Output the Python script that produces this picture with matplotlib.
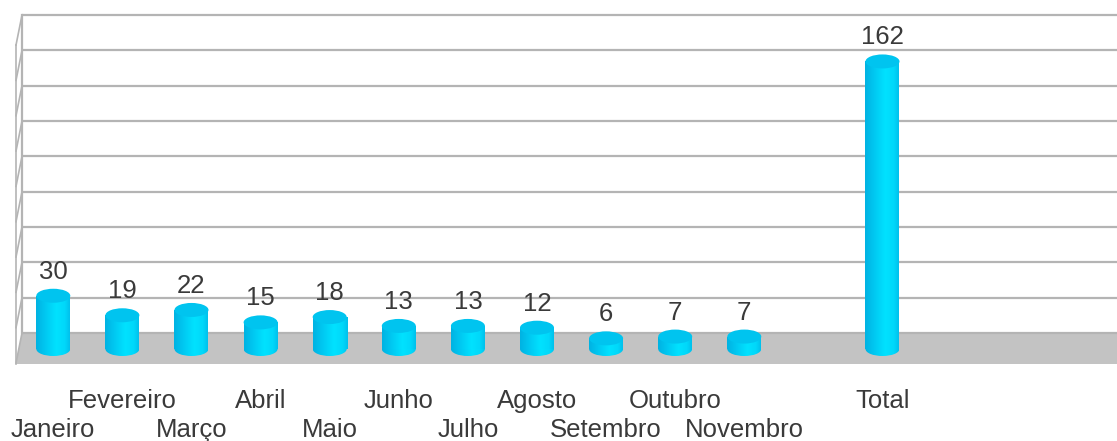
import numpy as np
import matplotlib
matplotlib.use("Agg")
import matplotlib.pyplot as plt
from matplotlib.patches import Ellipse, Polygon
from matplotlib.colors import LinearSegmentedColormap

# ---- data ----
categories = ["Janeiro", "Fevereiro", "Março", "Abril", "Maio", "Junho", "Julho",
              "Agosto", "Setembro", "Outubro", "Novembro", "", "Total"]
values = [30, 19, 22, 15, 18, 13, 13, 12, 6, 7, 7, None, 162]
grid_values = list(range(0, 181, 20))

# ---- figure geometry (pixels) ----
W, H, DPI = 1117, 441, 100
PX_X = 69.1      # pixels per category slot
PX_Y = 1.775     # pixels per value unit
X0_PX = 53.3     # pixel x of first category centre
BASE_PX = 92     # pixel (from bottom) of value 0 at bar base

fig = plt.figure(figsize=(W / DPI, H / DPI), dpi=DPI)
ax = fig.add_axes([0, 0, 1, 1])
ax.set_xlim(-X0_PX / PX_X, (W - X0_PX) / PX_X)
ax.set_ylim(-BASE_PX / PX_Y, (H - BASE_PX) / PX_Y)
ax.axis("off")

def ux(px):  # pixel distance -> data x units
    return px / PX_X

def uy(px):  # pixel distance -> data y units
    return px / PX_Y

xmin, xmax = ax.get_xlim()
back_dy = uy(16)     # back wall is 16 px above bar base
front_dy = -uy(15)   # front edge of floor 15 px below bar base
wall_back_x = ux(22 - X0_PX)
wall_front_x = ux(16 - X0_PX)
grid_scale = 0.995

grid_col = "#b4b4b4"
text_col = "#3a3a3a"
FS = 18.5

# floor
floor = Polygon([(wall_back_x, back_dy), (xmax + 1, back_dy),
                 (xmax + 1, front_dy), (wall_front_x, front_dy)],
                closed=True, facecolor="#c3c3c3", edgecolor="none", zorder=1)
ax.add_patch(floor)

# back wall gridlines + left wall
for g in grid_values:
    yb = back_dy + g * grid_scale
    ax.plot([wall_back_x, xmax + 1], [yb, yb], color=grid_col, lw=1.6, zorder=1.5,
            solid_capstyle="butt")
    ax.plot([wall_front_x, wall_back_x], [yb - uy(30), yb], color=grid_col, lw=1.2, zorder=1.5)
top_b = back_dy + grid_values[-1] * grid_scale
ax.plot([wall_back_x, wall_back_x], [back_dy, top_b], color=grid_col, lw=1.6, zorder=1.5)
ax.plot([wall_front_x, wall_front_x], [front_dy, top_b - uy(30)], color=grid_col, lw=1.2, zorder=1.5)

# cylinder gradient
cmap = LinearSegmentedColormap.from_list(
    "cyl", [(0.0, "#00b2e2"), (0.25, "#00c6f0"), (0.6, "#00e2ff"), (0.85, "#00d8fa"), (1.0, "#00c0ec")])
grad = np.linspace(0, 1, 256).reshape(1, -1)

bw = ux(34)
eh = uy(14)
xs = [i for i, v in enumerate(values) if v is not None]
vs = [v for v in values if v is not None]
bars = ax.bar(xs, vs, width=bw, bottom=0, color="none", edgecolor="none", zorder=3)
for x, v, bar in zip(xs, vs, bars):
    im = ax.imshow(grad, cmap=cmap, aspect="auto",
                   extent=(x - bw / 2, x + bw / 2, 0, v), zorder=3)
    im.set_clip_path(bar)
    bottom_e = Ellipse((x, 0), bw, eh, facecolor="none", edgecolor="none", zorder=2.9)
    ax.add_patch(bottom_e)
    im2 = ax.imshow(grad, cmap=cmap, aspect="auto",
                    extent=(x - bw / 2, x + bw / 2, -eh / 2, 0), zorder=2.9)
    im2.set_clip_path(bottom_e)
    top_e = Ellipse((x, v), bw, eh, facecolor="#00c4ef", edgecolor="none", zorder=4)
    ax.add_patch(top_e)
    ax.annotate(str(v), (x, v), xytext=(0, 17), textcoords="offset pixels",
                ha="center", va="baseline", fontsize=FS, color=text_col,
                family="Liberation Sans", zorder=5)

# category labels (alternating rows)
for i, c in enumerate(categories):
    if not c:
        continue
    off = -59 if i % 2 == 1 or c == "Total" else -88
    ax.annotate(c, (i, 0), xytext=(0, off), textcoords="offset pixels",
                ha="center", va="baseline", fontsize=FS, color=text_col,
                family="Liberation Sans", annotation_clip=False)

fig.savefig("out.png", dpi=DPI)
